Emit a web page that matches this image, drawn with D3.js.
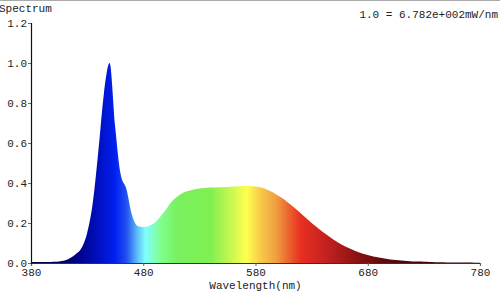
<!DOCTYPE html>
<html><head><meta charset="utf-8">
<script src="https://cdn.jsdelivr.net/npm/d3@7"></script>
<style>html,body{margin:0;padding:0;background:#fff;}svg{display:block;}</style>
</head><body>
<script>
const wavelengths = d3.range(380, 781, 5);
const values = [
0.005,0.005,0.005,0.005,0.006,0.008,0.013,0.025,0.045,0.075,
0.15,0.30,0.56,0.85,1.0,0.68,0.44,0.37,0.24,0.185,
0.18,0.185,0.20,0.23,0.265,0.305,0.33,0.35,0.36,0.367,
0.372,0.375,0.377,0.378,0.379,0.38,0.382,0.384,0.385,0.385,
0.382,0.377,0.368,0.355,0.338,0.32,0.298,0.275,0.25,0.225,
0.20,0.178,0.155,0.135,0.115,0.098,0.083,0.07,0.058,0.048,
0.04,0.033,0.027,0.022,0.018,0.015,0.012,0.01,0.008,0.007,
0.006,0.005,0.004,0.004,0.003,0.003,0.002,0.002,0.002,0.001,0.001];
const xTicks = [380,480,580,680,780];
const yTicks = [0,0.2,0.4,0.6,0.8,1.0,1.2];
const colorStops = [
 [380,"#000030"],[420,"#000080"],[440,"#0010c0"],[455,"#0020f0"],[465,"#2050f0"],
 [475,"#60c0f8"],[482,"#80ffff"],[495,"#80ff90"],[510,"#78f060"],[540,"#80f050"],
 [560,"#d0f850"],[572,"#ffff50"],[585,"#f8c848"],[598,"#f0a040"],[620,"#e83020"],
 [645,"#c02020"],[675,"#801010"],[705,"#500808"],[780,"#200000"]];
const titleText = "Spectrum";
const scaleText = "1.0 = 6.782e+002mW/nm";
const xLabel = "Wavelength(nm)";

const W = 500, H = 291;
const svg = d3.select("body").append("svg").attr("width", W).attr("height", H);
const font = "'Liberation Mono', 'Courier New', monospace";

const x = d3.scaleLinear().domain([380, 780]).range([31, 480]);
const y = d3.scaleLinear().domain([0, 1.2]).range([263, 23]);

// top border
svg.append("line").attr("x1",0).attr("x2",W).attr("y1",0.5).attr("y2",0.5)
  .attr("stroke","#aaa").attr("stroke-width",1);

const defs = svg.append("defs");
const grad = defs.append("linearGradient").attr("id","spec")
  .attr("gradientUnits","userSpaceOnUse")
  .attr("x1", x(380)).attr("x2", x(780)).attr("y1",0).attr("y2",0);
grad.selectAll("stop").data(colorStops).enter().append("stop")
  .attr("offset", d => (d[0]-380)/400)
  .attr("stop-color", d => d[1]);

const data = wavelengths.map((w,i)=>({w, v: values[i]}));
const area = d3.area().x(d=>x(d.w)).y0(y(0)).y1(d=>y(d.v)).curve(d3.curveMonotoneX);
svg.append("path").datum(data).attr("d", area).attr("fill","url(#spec)");

// axes
const xAxis = d3.axisBottom(x).tickValues(xTicks).tickSize(3).tickPadding(2).tickFormat(d3.format("d"));
const gx = svg.append("g").attr("transform",`translate(0,${y(0)})`).call(xAxis);
gx.select(".domain").attr("stroke","#333").attr("stroke-width",1.2);
gx.selectAll(".tick line").attr("stroke","#666");
gx.selectAll("text").attr("font-family",font).attr("font-size",11).attr("fill","#222");

const yAxis = d3.axisLeft(y).tickValues(yTicks).tickSize(3).tickFormat(d3.format(".1f"));
const gy = svg.append("g").attr("transform",`translate(${x(380)},0)`).call(yAxis);
gy.select(".domain").attr("stroke","#111").attr("stroke-width",1.2);
gy.selectAll(".tick line").attr("stroke","#666");
gy.selectAll("text").attr("font-family",font).attr("font-size",11).attr("fill","#222").attr("x",-4);

svg.append("text").attr("x",-1).attr("y",12).text(titleText)
  .attr("font-family",font).attr("font-size",11).attr("fill","#222");
svg.append("text").attr("x",498).attr("y",18).attr("text-anchor","end").text(scaleText)
  .attr("font-family",font).attr("font-size",11).attr("fill","#222");
svg.append("text").attr("x",x(580)).attr("y",289).attr("text-anchor","middle").text(xLabel)
  .attr("font-family",font).attr("font-size",11).attr("fill","#222");
</script>
</body></html>
